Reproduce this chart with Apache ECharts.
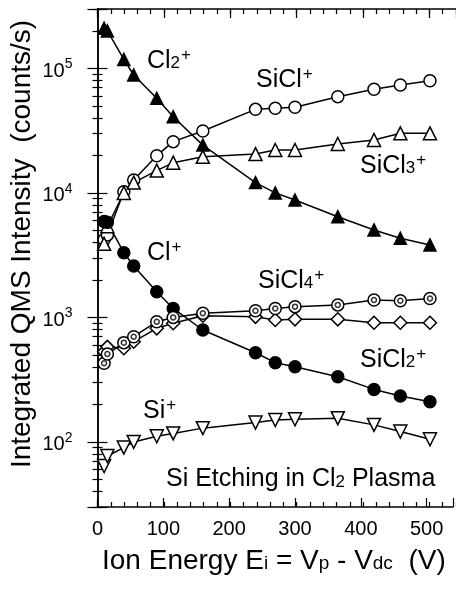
<!DOCTYPE html>
<html><head><meta charset="utf-8">
<script src="https://cdn.jsdelivr.net/npm/echarts@6/dist/echarts.min.js"></script>
<style>html,body{margin:0;padding:0;background:#fff;}#c{width:456px;height:595px;}</style>
</head><body><div id="c"></div>
<script>
// Ion energy (V)
const energies = [10, 15, 40, 55, 90, 115, 160, 240, 270, 300, 365, 420, 460, 505];
// Integrated QMS intensity (counts/s)
const cl2   = [210000, 200000, 118000, 88500, 57500, 40900, 24200, 12100, 10000, 8770, 6440, 5040, 4320, 3820];
const sicl  = [4200, 4600, 10200, 12700, 19900, 25800, 31400, 46900, 47800, 48700, 59300, 67900, 73600, 79700];
const sicl3 = [3900, 5400, 10000, 12100, 15100, 17500, 19500, 20500, 22100, 22100, 24700, 26600, 30100, 30100];
const cl    = [5900, 5800, 3310, 2590, 1610, 1180, 792, 520, 433, 402, 334, 264, 234, 210];
const sicl4 = [428, 508, 627, 700, 923, 1000, 1080, 1130, 1180, 1220, 1260, 1380, 1360, 1420];
const sicl2 = [530, 580, 565, 638, 817, 897, 1030, 1010, 953, 965, 965, 906, 906, 906];
const si    = [64, 77, 90, 100, 111, 117, 129, 143, 150, 152, 155, 137, 121, 105];
const xTickLabels = [0, 100, 200, 300, 400, 500];
const yTickLabels = [100, 1000, 10000, 100000];

const F = '"Liberation Sans", Arial, sans-serif';
const X_MIN = 0, X_MAX = 540, Y_MIN = 30, Y_MAX = 300000;

const pts = arr => energies.map((x, i) => [x, arr[i]]);
const minorLog = [];
for (let n = 1; n <= 5; n++) for (let k = 2; k <= 9; k++) {
  const v = k * Math.pow(10, n);
  if (v >= Y_MIN && v <= Y_MAX) minorLog.push(Math.log10(v));
}

const chart = echarts.init(document.getElementById('c'), null, {renderer: 'canvas'});
const axLine = {show: true, lineStyle: {color: '#000', width: 1.5}};
const noLine = {show: false};
const rect = {left: 97.5, top: 9, width: 361, height: 498};
const grids = [0, 1, 2, 3].map(() => Object.assign({}, rect));

function xAx(g, pos, interval, len, labels, line) {
  return {
    type: 'value', position: pos, min: X_MIN, max: X_MAX, interval: interval, gridIndex: g,
    axisLine: line ? axLine : noLine,
    axisTick: {show: true, inside: true, length: len, lineStyle: {color: '#000', width: 1.2}},
    axisLabel: labels ? {show: true, margin: 12, color: '#000', fontFamily: F, fontSize: 20,
      formatter: v => xTickLabels.includes(v) ? String(v) : ''} : {show: false},
    splitLine: {show: false}
  };
}
function yMajor(g, pos, labels) {
  return {
    type: 'log', logBase: 10, position: pos, min: Y_MIN, max: Y_MAX, gridIndex: g,
    axisLine: axLine,
    axisTick: {show: true, inside: true, length: 10, lineStyle: {color: '#000', width: 1.2}},
    axisLabel: labels ? {show: true, margin: 25, color: '#000', fontFamily: F,
      formatter: v => {
        const hit = yTickLabels.find(t => Math.abs(t - v) / t < 1e-6);
        return hit ? '{b|10}{s|' + Math.round(Math.log10(hit)) + '}' : '';
      },
      rich: {
        b: {fontSize: 20, fontFamily: F, color: '#000', lineHeight: 22, padding: [6, 0, 0, 0]},
        s: {fontSize: 14, fontFamily: F, color: '#000', lineHeight: 14, verticalAlign: 'top'}
      }} : {show: false},
    splitLine: {show: false}
  };
}
function yMinor(g, pos) {
  return {
    type: 'value', position: pos, min: Math.log10(Y_MIN), max: Math.log10(Y_MAX), gridIndex: g,
    axisLine: noLine,
    axisTick: {show: true, inside: true, length: 5, customValues: minorLog, lineStyle: {color: '#000', width: 1.2}},
    axisLabel: {show: false}, splitLine: {show: false}
  };
}

function lineSeries(data, symbol, size, filled, rotate) {
  return {
    type: 'line', xAxisIndex: 0, yAxisIndex: 0, data: pts(data),
    symbol: symbol, symbolSize: size, symbolRotate: rotate || 0, showSymbol: true,
    lineStyle: {color: '#000', width: 1.5},
    itemStyle: {color: filled ? '#000' : '#fff', borderColor: '#000', borderWidth: 1.5},
    emphasis: {disabled: true}, z: 3
  };
}

const base = {fontSize: 25, fontFamily: F, color: '#000', lineHeight: 28};
const rich = {
  n: base,
  s: {fontSize: 17, fontFamily: F, color: '#000', lineHeight: 17, verticalAlign: 'bottom', padding: [0, 0, 3, 0]},
  p: {fontSize: 17, fontFamily: F, color: '#000', lineHeight: 17, verticalAlign: 'top', padding: [0, 0, 0, 1]}
};
function txt(str, left, top) {
  return {type: 'text', left: left, top: top, z: 10,
    style: {text: str, rich: rich, fill: '#000', font: '25px ' + F}};
}

const option = {
  animation: false,
  backgroundColor: '#fff',
  grid: grids,
  xAxis: [xAx(0, 'bottom', 100, 9, true, true), xAx(1, 'top', 100, 9, false, true),
          xAx(2, 'bottom', 20, 5, false, false), xAx(3, 'top', 20, 5, false, false)],
  yAxis: [yMajor(0, 'left', true), yMajor(1, 'right', false), yMinor(2, 'left'), yMinor(3, 'right')],
  series: [
    lineSeries(cl2, 'triangle', 12, true),
    lineSeries(sicl, 'circle', 12, false),
    lineSeries(sicl3, 'triangle', 13, false),
    lineSeries(cl, 'circle', 12, true),
    lineSeries(sicl2, 'diamond', 13, false),
    lineSeries(sicl4, 'circle', 12, false),
    {type: 'scatter', xAxisIndex: 0, yAxisIndex: 0, data: pts(sicl4), symbol: 'circle', symbolSize: 5,
     itemStyle: {color: '#fff', borderColor: '#000', borderWidth: 1.5}, z: 4, emphasis: {disabled: true}},
    lineSeries(si, 'triangle', 13, false, 180)
  ],
  graphic: [
    txt('{n|Cl}{s|2}{p|+}', 147, 47),
    txt('{n|SiCl}{p|+}', 256, 66),
    txt('{n|SiCl}{s|3}{p|+}', 360, 152),
    txt('{n|Cl}{p|+}', 147, 239),
    txt('{n|SiCl}{s|4}{p|+}', 258, 267),
    txt('{n|SiCl}{s|2}{p|+}', 360, 346),
    txt('{n|Si}{p|+}', 143, 397),
    txt('{n|Si Etching in Cl}{s|2}{n| Plasma}', 166, 467),
    {type: 'text', left: 102, top: 547, z: 10,
     style: {text: '{t|Ion Energy E}{u|i}{t| = V}{u|p}{t| - V}{u|dc}{t|  (V)}', fill: '#000',
       rich: {t: {fontSize: 28, fontFamily: F, color: '#000', lineHeight: 32},
              u: {fontSize: 19, fontFamily: F, color: '#000', lineHeight: 19, verticalAlign: 'bottom', padding: [0, 0, 4, 0]}}}},
    {type: 'text', x: 8, y: 244, rotation: Math.PI / 2, z: 10,
     style: {text: 'Integrated QMS Intensity  (counts/s)', font: '28px ' + F, fill: '#000',
       textAlign: 'center', textVerticalAlign: 'top'}}
  ]
};
chart.setOption(option);
</script></body></html>
